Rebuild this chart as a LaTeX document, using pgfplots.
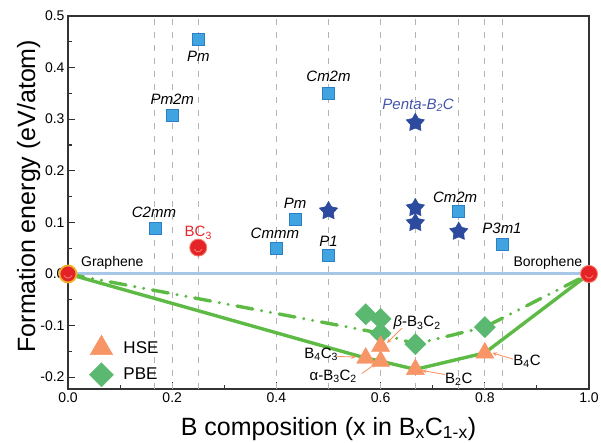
\documentclass[border=0pt]{standalone}
\usepackage{fontspec}
\setmainfont{Liberation Sans}
\usepackage{pgfplots}
\pgfplotsset{compat=1.18}
\usetikzlibrary{arrows.meta,calc}
\definecolor{sqfill}{HTML}{3FA4E0}
\definecolor{sqdraw}{HTML}{2A80C4}
\definecolor{starfill}{HTML}{2C4A9E}
\definecolor{circfill}{HTML}{E52226}
\definecolor{circdraw}{HTML}{F2B02A}
\definecolor{smile}{HTML}{F27A6A}
\definecolor{trifill}{HTML}{F79566}
\definecolor{diafill}{HTML}{5BB871}
\definecolor{lineg}{HTML}{5DBB45}
\definecolor{hline}{HTML}{A8C6E6}
\definecolor{gridc}{HTML}{B3B3B3}
\definecolor{axisc}{HTML}{333333}
\definecolor{pentac}{HTML}{4255AA}
\definecolor{bcred}{HTML}{E8262D}
\pgfdeclareplotmark{fstar}{%
  \pgfpathmoveto{\pgfpointpolar{90}{\pgfplotmarksize}}%
  \pgfpathlineto{\pgfpointpolar{126}{0.55\pgfplotmarksize}}%
  \pgfpathlineto{\pgfpointpolar{162}{\pgfplotmarksize}}%
  \pgfpathlineto{\pgfpointpolar{198}{0.55\pgfplotmarksize}}%
  \pgfpathlineto{\pgfpointpolar{234}{\pgfplotmarksize}}%
  \pgfpathlineto{\pgfpointpolar{270}{0.55\pgfplotmarksize}}%
  \pgfpathlineto{\pgfpointpolar{306}{\pgfplotmarksize}}%
  \pgfpathlineto{\pgfpointpolar{342}{0.55\pgfplotmarksize}}%
  \pgfpathlineto{\pgfpointpolar{18}{\pgfplotmarksize}}%
  \pgfpathlineto{\pgfpointpolar{54}{0.55\pgfplotmarksize}}%
  \pgfpathclose
  \pgfusepathqfillstroke}
\pgfdeclareplotmark{smiley}{%
  \pgfpathcircle{\pgfpointorigin}{\pgfplotmarksize}%
  \pgfusepathqfillstroke
  \pgfsetlinewidth{0.9pt}\pgfsetstrokecolor{smile}%
  \pgfpathmoveto{\pgfpointpolar{200}{0.5\pgfplotmarksize}}%
  \pgfpatharc{200}{340}{0.5\pgfplotmarksize}%
  \pgfusepathqstroke}
\begin{document}
\begin{tikzpicture}
\begin{axis}[
  scale only axis, width=521pt, height=373pt,
  xmin=0, xmax=1, ymin=-0.223, ymax=0.5,
  xtick={0,0.2,0.4,0.6,0.8,1},
  ytick={-0.2,-0.1,0,0.1,0.2,0.3,0.4,0.5},
  minor x tick num=1, minor y tick num=1,
  tick align=inside, tick pos=left,
  major tick length=7pt, minor tick length=4pt,
  axis line style={line width=1.3pt, color=axisc},
  every tick/.style={line width=1.1pt, axisc},
  ticklabel style={font=\fontsize{14}{16}\selectfont},
  /pgf/number format/fixed, /pgf/number format/fixed zerofill,
  /pgf/number format/precision=1, /pgf/number format/assume math mode=true,
  extra x ticks={0.16667,0.2,0.25,0.4,0.5,0.6,0.66667,0.75,0.8,0.83333},
  extra x tick labels={},
  extra x tick style={grid=major, major tick length=0pt,
     major grid style={gridc, line width=1.2pt, dash pattern=on 6pt off 7pt}},
  xlabel={B composition (x in B\textsubscript{x}C\textsubscript{1-x})},
  ylabel={Formation energy (eV/atom)},
  label style={font=\fontsize{25}{30}\selectfont},
  x label style={at={(axis description cs:0.5,0)}, anchor=base, yshift=-46pt},
  y label style={at={(axis description cs:-0.0633,0.517)}, anchor=base},
  legend style={at={(axis description cs:0.035,0.0)}, anchor=south west, draw=none, fill=none,
     font=\fontsize{17}{20}\selectfont, row sep=6pt, column sep=8pt},
  legend cell align=left,
  reverse legend,
]
\coordinate (sw) at (rel axis cs:0,0);
\coordinate (ne) at (rel axis cs:1,1);
\addplot[hline, line width=3pt, forget plot] coordinates {(0,0) (1,0)};
\addplot[lineg, line width=3.4pt, forget plot] coordinates {(0,0) (0.5714,-0.163) (0.6,-0.169) (0.6667,-0.185) (0.8,-0.153) (1,0)};
\addplot[lineg, line width=3.4pt, line cap=round, dash pattern=on 16pt off 9pt on 0pt off 9pt on 0pt off 9pt, forget plot] coordinates {(0,0) (0.6,-0.115) (0.6667,-0.136) (0.8,-0.103) (1,0)};
\addplot[only marks, mark=square*, mark size=7.5pt, mark options={rotate=45, fill=diafill, draw=diafill}, legend image post style={mark size=8.5pt}] coordinates {(0.5714,-0.078) (0.6,-0.087) (0.6,-0.115) (0.6667,-0.136) (0.8,-0.103)};
\addlegendentry{PBE}
\addplot[only marks, mark=triangle*, mark size=10.5pt, mark options={fill=trifill, draw=trifill}, legend image post style={mark size=13pt}] coordinates {(0.5714,-0.163) (0.6,-0.14) (0.6,-0.169) (0.6667,-0.185) (0.8,-0.153)};
\addlegendentry{HSE}
\addplot[only marks, mark=square*, mark size=6pt, mark options={fill=sqfill, draw=sqdraw, line width=0.6pt}, forget plot] coordinates {(0.25,0.454) (0.2,0.307) (0.16667,0.089) (0.4,0.049) (0.436,0.105) (0.5,0.037) (0.5,0.351) (0.75,0.122) (0.83333,0.058)};
\addplot[only marks, mark=fstar, mark size=9.5pt, mark options={fill=starfill, draw=starfill, line width=0.6pt}, forget plot] coordinates {(0.5,0.122) (0.66667,0.293) (0.66667,0.128) (0.66667,0.099) (0.75,0.082)};
\addplot[only marks, mark=smiley, mark size=8.5pt, mark options={fill=circfill, draw=circdraw, line width=1.8pt}, forget plot] coordinates {(0,0) (0.25,0.051) (1,0)};
% structure labels
\begin{scope}[every node/.style={font=\fontsize{15}{18}\selectfont\itshape}]
\node at (axis cs:0.25,0.422) {Pm};
\node at (axis cs:0.2,0.339) {Pm2m};
\node at (axis cs:0.165,0.119) {C2mm};
\node at (axis cs:0.397,0.078) {Cmmm};
\node at (axis cs:0.436,0.136) {Pm};
\node at (axis cs:0.5,0.064) {P1};
\node at (axis cs:0.5,0.383) {Cm2m};
\node at (axis cs:0.743,0.148) {Cm2m};
\node at (axis cs:0.833,0.089) {P3m1};
\node[text=pentac] at (axis cs:0.672,0.327) {Penta-B\textsubscript{2}C};
\end{scope}
\node[font=\fontsize{15}{18}\selectfont, text=bcred] at (axis cs:0.25,0.08) {BC\textsubscript{3}};
\node[font=\fontsize{14}{17}\selectfont] at (axis cs:0.085,0.021) {Graphene};
\node[font=\fontsize{14}{17}\selectfont] at (axis cs:0.921,0.021) {Borophene};
% annotations
\begin{scope}[every node/.style={font=\fontsize{15}{18}\selectfont}]
\node at (axis cs:0.67,-0.095) {{\itshape β}-B\textsubscript{3}C\textsubscript{2}};
\node at (axis cs:0.486,-0.156) {B\textsubscript{4}C\textsubscript{3}};
\node at (axis cs:0.509,-0.198) {α-B\textsubscript{3}C\textsubscript{2}};
\node at (axis cs:0.75,-0.204) {B\textsubscript{2}C};
\node at (axis cs:0.881,-0.169) {B\textsubscript{4}C};
\end{scope}
\begin{scope}[trifill, line width=0.9pt, -{Stealth[length=5pt,width=4pt]}]
\draw (axis cs:0.641,-0.105) -- (axis cs:0.612,-0.134);
\draw (axis cs:0.516,-0.160) -- (axis cs:0.553,-0.161);
\draw (axis cs:0.564,-0.193) -- (axis cs:0.592,-0.173);
\draw (axis cs:0.724,-0.195) -- (axis cs:0.679,-0.187);
\draw (axis cs:0.854,-0.165) -- (axis cs:0.814,-0.153);
\end{scope}
\end{axis}
\pgfresetboundingbox
\path[use as bounding box] ($(sw)+(-68pt,-54pt)$) rectangle ($(ne)+(12pt,16pt)$);
\end{tikzpicture}
\end{document}
